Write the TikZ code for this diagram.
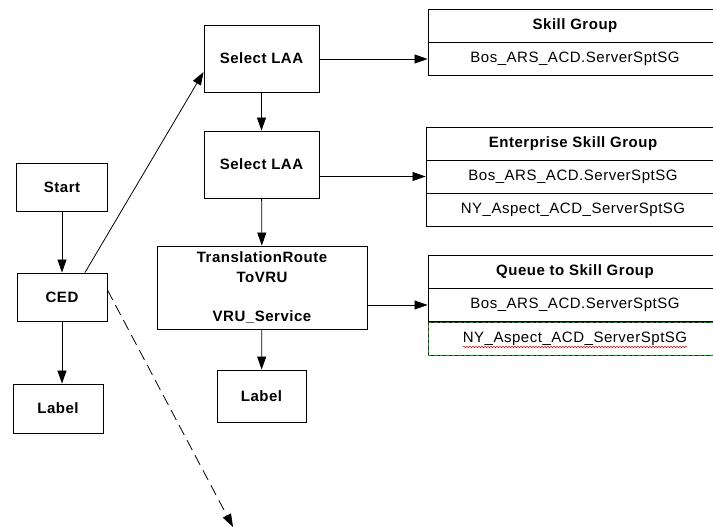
\documentclass[tikz,border=0pt]{standalone}
\usepackage{fontspec}
\setmainfont{Liberation Sans}[LetterSpace=3.5]
\usepackage{tikz}
\usetikzlibrary{positioning}
\usetikzlibrary{arrows.meta}
\usetikzlibrary{calc}
\usetikzlibrary{decorations.pathmorphing}
\begin{document}
\begin{tikzpicture}[
  x=1pt, y=-1pt,
  font=\fontsize{15}{19.5}\selectfont,
  nodebox/.style={draw, line width=0.9pt, align=center, inner sep=0pt, font=\fontsize{15}{19.5}\selectfont\bfseries},
  tabhead/.style={draw, line width=0.9pt, inner sep=0pt, minimum width=294pt, minimum height=33pt, font=\fontsize{15}{19.5}\selectfont\bfseries},
  tabrow/.style={draw, line width=0.9pt, inner sep=0pt, minimum width=294pt, minimum height=33pt},
  selrow/.style={draw=green!65!black, line width=0.9pt, dash pattern=on 3pt off 3pt,
    postaction={draw=black!85, line width=0.9pt, dash pattern=on 3pt off 3pt, dash phase=3pt},
    inner sep=0pt, minimum width=294pt, minimum height=33pt},
  arrow/.style={-{Triangle[length=13pt,width=9pt]}, line width=0.8pt},
  dashedarrow/.style={-{Triangle[length=13pt,width=9pt]}, line width=0.8pt, dash pattern=on 11pt off 6pt},
  squiggle/.style={red!85!black, line width=0.5pt, decorate, decoration={snake, amplitude=0.8pt, segment length=3pt}}
]
\useasboundingbox (0,0) rectangle (713,529);

% Left column
\node[nodebox, minimum width=91pt, minimum height=48pt] (start) at (62,187) {Start};
\node[nodebox, minimum width=90pt, minimum height=48pt] (ced) at (62,297) {CED};
\node[nodebox, minimum width=90pt, minimum height=49pt] (lblA) at (58,408.5) {Label};

% Middle column
\node[nodebox, minimum width=115pt, minimum height=67pt] (sel1) at (261.5,58.5) {Select LAA};
\node[nodebox, minimum width=115pt, minimum height=67pt] (sel2) at (261.5,164.5) {Select LAA};
\node[nodebox, minimum width=210pt, minimum height=83pt] (trans) at (262,287.5)
{TranslationRoute\\ToVRU\\[19.5pt]VRU\_Service};
\node[nodebox, minimum width=89pt, minimum height=52pt] (lblB) at (261.5,396) {Label};

% Skill Group table
\node[tabhead] (sgHead) at (575,25.5) {Skill Group};
\node[tabrow] (sgRow1) at (575,59) {Bos\_ARS\_ACD.ServerSptSG};

% Enterprise Skill Group table
\node[tabhead] (esgHead) at (573,144) {Enterprise Skill Group};
\node[tabrow] (esgRow1) at (573,176.5) {Bos\_ARS\_ACD.ServerSptSG};
\node[tabrow] (esgRow2) at (573,210) {NY\_Aspect\_ACD\_ServerSptSG};

% Queue to Skill Group table
\node[tabhead] (qsgHead) at (575,272) {Queue to Skill Group};
\node[tabrow] (qsgRow1) at (575,305) {Bos\_ARS\_ACD.ServerSptSG};
\node[selrow] (qsgRow2) at (575,339) {NY\_Aspect\_ACD\_ServerSptSG};
\draw[squiggle] ($(qsgRow2.center)+(-112,8)$) -- ($(qsgRow2.center)+(112,8)$);

% Arrows left column
\draw[arrow] (start) -- (ced);
\draw[arrow] (ced.south) -- (ced.south |- lblA.north);
\draw[arrow] ($(ced.north)+(23,0)$) -- ($(sel1.west)+(0,13.5)$);
\coordinate (farTip) at (233,527);
\draw[dashedarrow] ($(ced.east)+(0,-7)$) -- (farTip);

% Arrows middle column
\draw[arrow] (sel1) -- (sel2);
\draw[arrow] (sel2) -- (trans);
\draw[arrow] (trans) -- (lblB);

% Arrows to tables
\draw[arrow] (sel1.east |- sgRow1.west) -- (sgRow1.west);
\draw[arrow] (sel2.east |- esgRow1.west) -- (esgRow1.west);
\draw[arrow] (trans.east |- qsgRow1.west) -- (qsgRow1.west);

\end{tikzpicture}
\end{document}
